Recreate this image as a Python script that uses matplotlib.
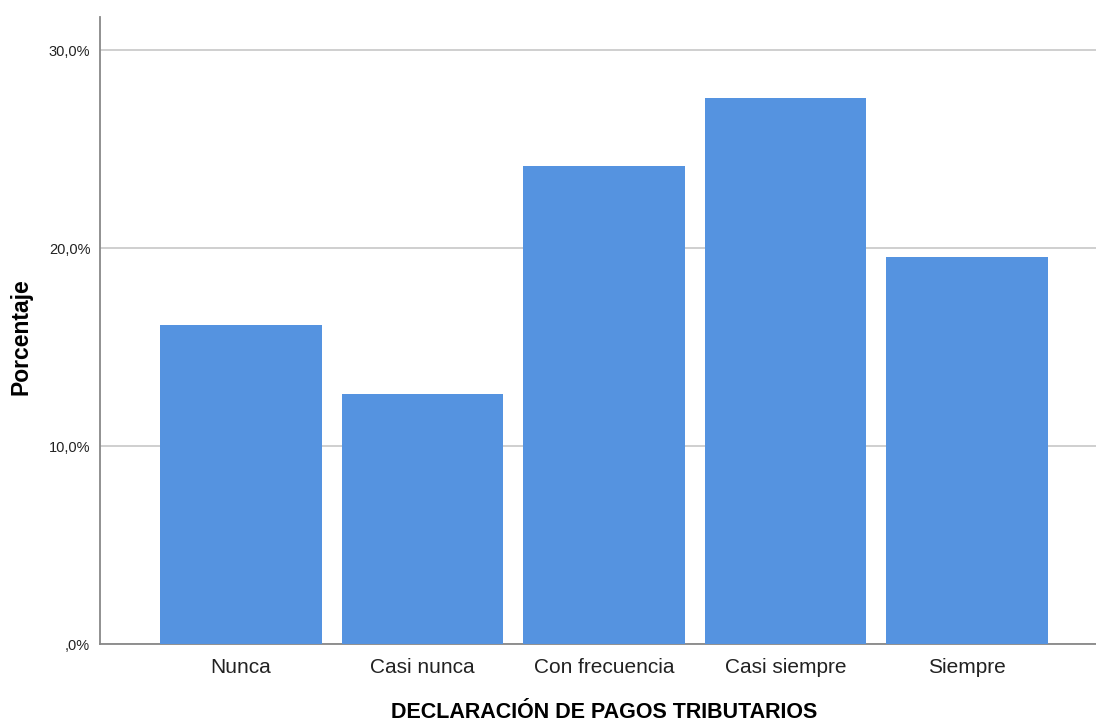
import matplotlib.pyplot as plt
import matplotlib.ticker as mticker

categorias = ['Nunca', 'Casi nunca', 'Con frecuencia', 'Casi siempre', 'Siempre']
porcentajes = [16.09, 12.64, 24.14, 27.59, 19.54]
yticks = [0, 10, 20, 30]

plt.rcParams['font.family'] = ['Liberation Sans', 'DejaVu Sans']

fig = plt.figure(figsize=(10.96, 7.26), dpi=100)
ax = fig.add_axes([100/1096, 1 - 644/726, 1 - 100/1096, (644 - 17)/726])

x = range(len(categorias))
ax.bar(x, porcentajes, width=0.89, color='#5593e0', zorder=3)

ax.set_xlim(-0.777, 4.71)
ax.set_ylim(0, 31.67)
ax.set_yticks(yticks)

def fmt(v, pos):
    s = f'{v:.1f}'.replace('.', ',')
    if s.startswith('0'):
        s = s[1:]
    return s + '%'

ax.yaxis.set_major_formatter(mticker.FuncFormatter(fmt))
ax.set_xticks(list(x))
ax.set_xticklabels(categorias, fontsize=15, color='#222222')
ax.tick_params(axis='y', length=0, labelsize=10.5, pad=7, colors='#222222')
ax.tick_params(axis='x', length=0, pad=10)

ax.grid(axis='y', color='#cfcfcf', linewidth=1.4, zorder=0)
for s in ['top', 'right']:
    ax.spines[s].set_visible(False)
for s in ['left', 'bottom']:
    ax.spines[s].set_color('#888888')
    ax.spines[s].set_linewidth(1.3)

ax.set_ylabel('Porcentaje', fontsize=16.5, fontweight='bold')
ax.yaxis.set_label_coords(-0.068, 0.491)
ax.set_xlabel('DECLARACIÓN DE PAGOS TRIBUTARIOS', fontsize=15.5,
              fontweight='bold')
ax.xaxis.set_label_coords(0.506, -0.092)

fig.savefig('out.png', dpi=100)
